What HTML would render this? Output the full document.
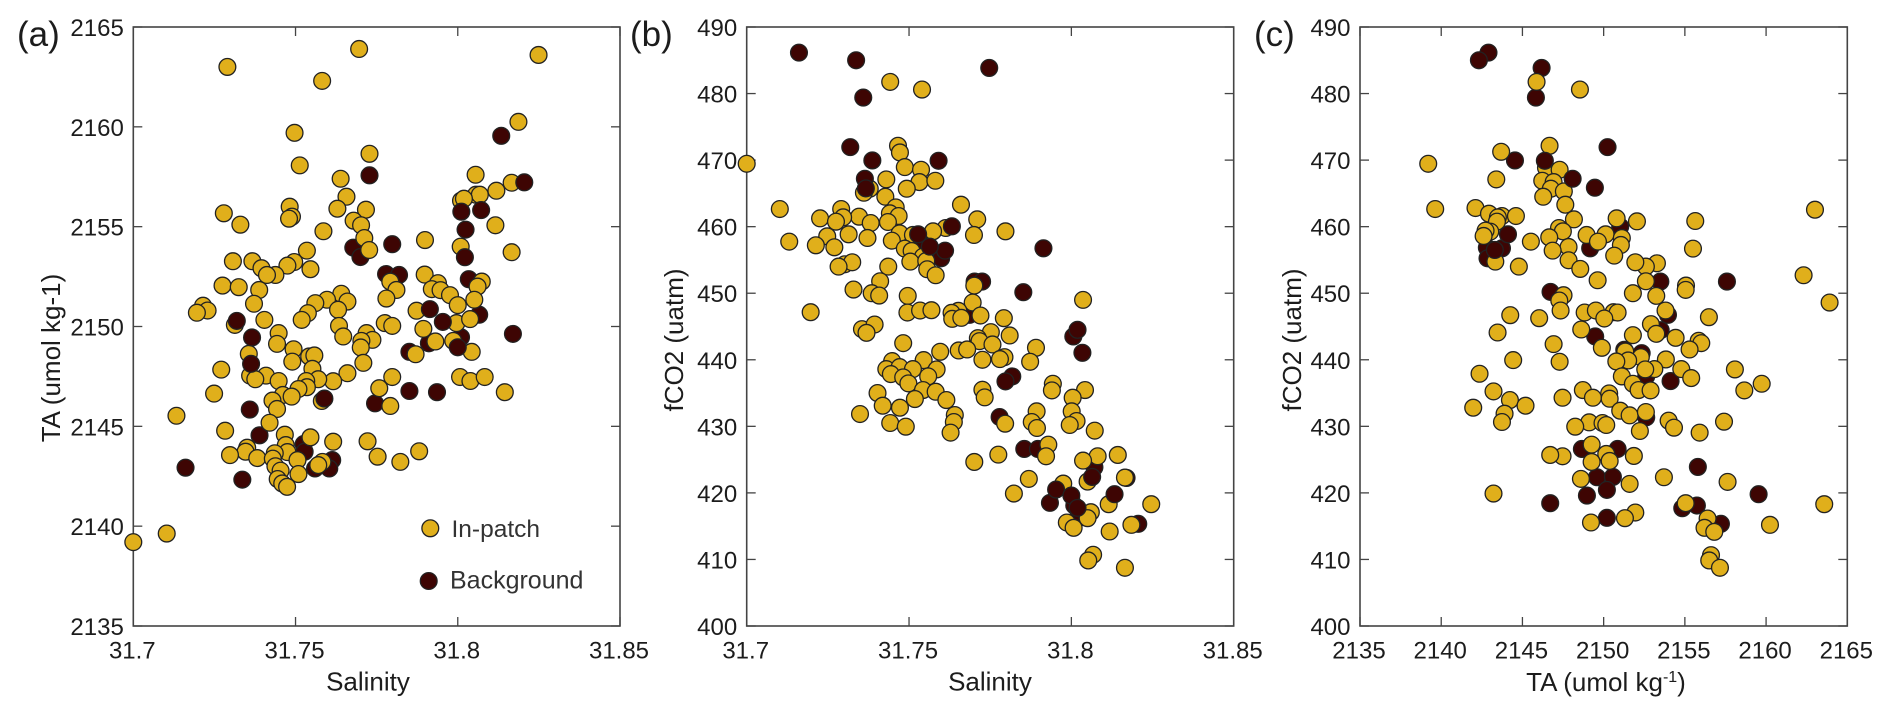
<!DOCTYPE html>
<html lang="en">
<head>
<meta charset="utf-8">
<title>Salinity, TA and fCO2 scatter plots</title>
<style>
html,body{margin:0;padding:0;background:#fff;width:1892px;height:716px;overflow:hidden}
svg{display:block}
text{font-family:"Liberation Sans",Arial,sans-serif;fill:#1c1c1c}
</style>
</head>
<body>
<svg id="figure" xmlns="http://www.w3.org/2000/svg" width="1892" height="716" viewBox="0 0 1892 716">
  <rect width="1892" height="716" fill="#fff"/>
  <g id="panel-a"></g>
  <g id="panel-b"></g>
  <g id="panel-c"></g>
  <text x="17" y="46" font-size="35">(a)</text>
  <text x="630" y="46" font-size="35">(b)</text>
  <text x="1254" y="46" font-size="35">(c)</text>
  <text x="368" y="690.5" font-size="26" text-anchor="middle">Salinity</text>
  <text x="990" y="690.5" font-size="26" text-anchor="middle">Salinity</text>
  <text x="1606" y="691" font-size="26" text-anchor="middle">TA (umol kg<tspan dy="-9" font-size="16">-1</tspan><tspan dy="9">)</tspan></text>
  <text transform="translate(60 358) rotate(-90)" font-size="26" text-anchor="middle">TA (umol kg-1)</text>
  <text transform="translate(683 340) rotate(-90)" font-size="26" text-anchor="middle">fCO2 (uatm)</text>
  <text transform="translate(1301 340) rotate(-90)" font-size="26" text-anchor="middle">fCO2 (uatm)</text>
  <g>
    <circle cx="430.3" cy="528.3" r="8.4" fill="#e0af1b" stroke="#222" stroke-width="1.3"/>
    <text x="451.5" y="537" font-size="24.5" fill="#333" style="fill:#333">In-patch</text>
    <circle cx="428.7" cy="581" r="8.4" fill="#3e0503" stroke="#222" stroke-width="1.3"/>
    <text x="450" y="588.5" font-size="25" fill="#333" style="fill:#333">Background</text>
  </g>
</svg>
<script>
const salinityTicks = [31.7, 31.75, 31.8, 31.85];
const salinityTickLabels = ["31.7", "31.75", "31.8", "31.85"];
const taTicks = [2135, 2140, 2145, 2150, 2155, 2160, 2165];
const taTickLabels = ["2135", "2140", "2145", "2150", "2155", "2160", "2165"];
const fco2Ticks = [400, 410, 420, 430, 440, 450, 460, 470, 480, 490];
const fco2TickLabels = ["400", "410", "420", "430", "440", "450", "460", "470", "480", "490"];

const panelAInPatchSalinity = [
31.729,31.7696,31.7582,31.8249,31.8187,31.7497,31.7728,31.7513,31.7639,31.8055,
31.8166,31.8119,31.8056,31.8068,31.801,31.8019,31.7657,31.7482,31.7489,31.748,
31.7629,31.7717,31.7279,31.733,31.7679,31.7702,31.8116,31.7586,31.7712,31.7899,
31.7727,31.8009,31.8166,31.7535,31.7307,31.7367,31.7395,31.7496,31.7475,31.7546,
31.7438,31.7412,31.7275,31.7325,31.7388,31.7898,31.7792,31.7811,31.8074,31.8061,
31.7939,31.792,31.7947,31.7976,31.7215,31.7229,31.7196,31.7372,31.778,31.7641,
31.766,31.7597,31.7561,31.7538,31.7519,31.7631,31.7404,31.8,31.8051,31.7873,
31.7775,31.7798,31.7996,31.8038,31.7634,31.7313,31.7448,31.7443,31.7647,31.7719,
31.7737,31.7703,31.7701,31.7894,31.7931,31.7986,31.787,31.8043,31.7356,31.7494,
31.7542,31.7558,31.749,31.7552,31.7709,31.7271,31.766,31.7616,31.757,31.7533,
31.7535,31.7509,31.7409,31.7448,31.736,31.7376,31.7798,31.7758,31.8007,31.8039,
31.8083,31.8145,31.7249,31.7461,31.7488,31.7581,31.7792,31.7429,31.7443,31.7133,
31.742,31.7283,31.7467,31.7546,31.7616,31.7722,31.7881,31.747,31.7351,31.7346,
31.7475,31.7436,31.7298,31.7382,31.743,31.7506,31.7753,31.7823,31.7583,31.757,
31.7438,31.7454,31.7509,31.7445,31.7459,31.7474,31.7103,31.7];
const panelAInPatchTA = [
2163,2163.9,2162.3,2163.6,2160.25,2159.7,2158.65,2158.07,2157.4,2157.6,
2157.2,2156.8,2156.6,2156.6,2156.3,2156.4,2156.5,2156,2155.5,2155.4,
2155.9,2155.85,2155.67,2155.1,2155.3,2155.07,2155.07,2154.77,2154.43,2154.33,
2153.83,2154,2153.72,2153.8,2153.27,2153.27,2152.92,2153.23,2153.05,2152.87,
2152.58,2152.58,2152.05,2151.97,2151.83,2152.6,2152.25,2151.83,2152.25,2152,
2152.17,2151.87,2151.82,2151.57,2151.04,2150.8,2150.69,2151.14,2151.4,2151.64,
2151.25,2151.34,2151.17,2150.67,2150.33,2150.84,2150.33,2151.07,2151.34,2150.79,
2150.17,2150.03,2150.17,2150.37,2150.03,2150.08,2149.67,2149.13,2149.5,2149.67,
2149.33,2149.28,2148.95,2149.88,2149.25,2149.28,2148.61,2148.73,2148.63,2148.86,
2148.5,2148.55,2148.24,2147.88,2148.18,2147.84,2147.66,2147.26,2147.36,2147.27,
2146.96,2146.87,2147.54,2147.27,2147.54,2147.36,2147.47,2146.91,2147.47,2147.27,
2147.47,2146.71,2146.64,2146.57,2146.49,2146.27,2146.02,2146.29,2145.87,2145.53,
2145.18,2144.78,2144.58,2144.45,2144.23,2144.25,2143.75,2144.06,2143.93,2143.73,
2143.71,2143.65,2143.56,2143.41,2143.38,2143.31,2143.48,2143.22,2143.22,2143.06,
2143,2142.78,2142.61,2142.36,2142.14,2141.97,2139.63,2139.2];
const panelABackgroundLowerSalinity = [
31.8134,31.7728,31.7678,31.77,31.7798,31.7779,31.7819,31.8034,31.7629,31.8066,
31.817,31.801,31.7911,31.7851,31.7851,31.7936,31.7745,31.7359,31.7389,31.7525,
31.7528,31.7613,31.756,31.7604,31.7161,31.7336];
const panelABackgroundLowerTA = [
2159.55,2157.57,2153.95,2153.48,2154.12,2152.63,2152.58,2152.37,2151.09,2150.59,
2149.63,2149.46,2149.16,2148.73,2146.77,2146.71,2146.15,2145.84,2144.55,2144.11,
2143.73,2143.31,2142.89,2142.89,2142.93,2142.33];
const panelABackgroundUpperSalinity = [31.7319,31.7589,31.7363,31.8011,31.8072,31.8024,31.8022,31.8205,31.7914,31.7954,31.8,31.7366];
const panelABackgroundUpperTA = [2150.28,2146.39,2148.13,2155.75,2155.83,2154.85,2153.47,2157.22,2150.87,2150.23,2148.96,2149.45];

const panelBInPatchSalinity = [
31.7442,31.754,31.7466,31.7472,31.7487,31.7537,31.7532,31.7581,31.743,31.7493,
31.7379,31.7361,31.7427,31.7,31.766,31.7459,31.7291,31.7102,31.7441,31.7468,
31.771,31.7226,31.7346,31.7297,31.7275,31.7382,31.7435,31.7613,31.7574,31.7797,
31.7471,31.7314,31.77,31.7372,31.7248,31.7512,31.7131,31.7213,31.7447,31.727,
31.7487,31.7508,31.7543,31.7504,31.7553,31.7302,31.7325,31.7283,31.7436,31.7556,
31.7582,31.7411,31.7329,31.7701,31.7696,31.7385,31.7408,31.7496,31.7495,31.7534,
31.7569,31.7197,31.7652,31.7631,31.7633,31.7661,31.772,31.7792,31.7355,31.7394,
31.7369,31.7752,31.781,31.7712,31.7717,31.7757,31.7482,31.7596,31.7653,31.7679,
31.7891,31.7794,31.778,31.7726,31.7873,31.7448,31.7545,31.743,31.7471,31.7512,
31.7585,31.7444,31.7482,31.7559,31.7498,31.7543,31.7582,31.7403,31.7726,31.7733,
31.7615,31.7518,31.7419,31.7472,31.7349,31.7641,31.7638,31.7442,31.749,31.7628,
31.7796,31.7775,31.7701,31.7869,31.7823,31.7893,31.7878,31.7894,31.8036,31.7943,
31.794,31.8042,31.8004,31.8001,31.8016,31.7995,31.8072,31.7929,31.7922,31.8081,
31.8143,31.8036,31.8165,31.805,31.7975,31.8115,31.8246,31.806,31.805,31.7986,
31.8007,31.8185,31.8118,31.8067,31.8052,31.8165];
const panelBInPatchFco2 = [
481.75,480.6,472.15,471.15,468.95,468.55,466.7,466.9,467.1,465.7,
465.7,465.1,464.5,469.45,463.3,462.9,462.65,462.65,462,461.6,
461.1,461.25,461.5,461.4,460.75,460.55,460.7,459.8,459.3,459.3,
459,458.85,458.75,458.3,458.55,458.75,457.75,457.2,457.9,456.9,
456.7,456.35,455.5,454.75,454.85,454.35,454.65,454,454,453.6,
452.7,451.8,450.55,451.15,448.6,450,449.65,449.6,447.1,447.4,
447.45,447.15,447.35,447.05,446.15,446.3,446.65,446.25,444.6,445.3,
444.05,444.15,443.65,443.25,442.8,442.3,442.5,441.2,441.4,441.55,
441.8,440.4,440.1,440,439.7,439.8,439.95,438.6,438.9,438.6,
438.55,437.85,437.35,437.5,436.45,435.45,435.2,435,435.5,434.35,
433.95,434.1,433.1,432.8,431.85,431.7,430.65,430.5,429.95,429.05,
430.4,425.75,424.65,422.1,419.9,432.25,430.65,429.75,449,436.4,
435.4,435.45,434.3,432.25,430.8,430.2,429.35,427.25,425.5,425.5,
425.7,424.85,422.3,421.7,421.4,418.3,418.3,417.1,416.2,415.55,
414.75,415.2,414.2,410.7,409.85,408.75];
const panelBBackgroundLowerSalinity = [
31.7161,31.7337,31.7747,31.7359,31.7319,31.7387,31.7591,31.7533,31.7599,31.7914,
31.7702,31.7725,31.7852,31.7686,31.7818,31.7797,31.7779,31.7855,31.7897,31.8006,
31.8034,31.8071,31.817,31.7934,31.8009,31.8014,31.8206];
const panelBBackgroundLowerFco2 = [
486.15,485,483.85,479.4,471.95,469.95,469.9,458,455.25,456.75,
451.75,451.75,450.15,446.75,437.5,436.75,431.4,426.6,426.6,443.5,
441.05,423.85,422.25,418.5,418.1,415.9,415.35];
const panelBBackgroundUpperSalinity = [31.7364,31.7367,31.7528,31.7611,31.7632,31.7564,31.8064,31.7953,31.8,31.8133,31.8019,31.8019];
const panelBBackgroundUpperFco2 = [467.2,465.75,458.85,456.4,460.05,457,422.4,420.5,419.6,419.8,417.75,444.5];

const panelCInPatchTA = [
2145.87,2148.54,2146.67,2143.69,2139.2,2146.45,2147.29,2143.39,2146.22,2146.92,
2146.75,2147.55,2146.28,2147.64,2139.63,2142.11,2163.01,2142.94,2143.74,2144.6,
2143.49,2148.17,2150.8,2155.64,2152.05,2143.43,2147.25,2147.49,2143.02,2142.73,
2142.61,2146.65,2148.95,2150.12,2151.12,2145.52,2149.65,2151.06,2147.84,2155.5,
2146.86,2150.65,2147.84,2153.28,2152.6,2151.95,2144.78,2143.33,2148.56,2162.31,
2149.63,2152.6,2155.07,2155.05,2151.8,2153.24,2163.91,2147.53,2147.27,2147.35,
2153.81,2144.25,2146.03,2148.83,2149.52,2150.61,2150.86,2150.04,2156.48,2152.91,
2143.47,2148.62,2151.8,2153.24,2154.43,2155.85,2156.01,2155.29,2146.92,2149.89,
2151.33,2152.29,2151.51,2150.78,2153.83,2144.43,2147.29,2153.12,2152.56,2154.78,
2158.08,2142.36,2151.12,2155.39,2159.73,2151.8,2152.15,2152.89,2158.66,2148.72,
2143.22,2150.34,2149.34,2150.37,2147.47,2144.23,2145.19,2141.97,2151.02,2151.6,
2152.6,2143.9,2154,2143.74,2149.11,2149.93,2150.16,2148.25,2157.41,2154.33,
2152.23,2155.91,2149.26,2150.16,2147.47,2146.71,2151.86,2150.37,2149.26,2148.6,
2153.71,2151.6,2157.63,2143.22,2155.05,2163.58,2151.95,2151.31,2149.22,2156.4,
2160.24,2156.21,2156.81,2156.61,2156.5,2157.16];
const panelCInPatchFco2 = [
481.75,480.6,472.15,471.25,469.45,468.85,468.55,467.1,466.9,466.7,
465.7,465.3,464.5,463.3,462.65,462.8,462.55,461.95,461.6,461.6,
461.4,461.1,461.25,460.85,460.8,460.75,459.8,459.3,459.25,459.4,
458.6,458.4,458.75,458.85,458.3,457.75,457.75,457.25,456.95,456.7,
456.4,455.65,454.95,454.5,454,454.65,454,454.75,453.65,452.7,
451.95,451.8,451.15,450.5,450,449.6,448.6,449.7,448.9,447.4,
447.4,446.7,446.25,447.1,447.4,447.15,447.1,446.2,446.4,445.35,
444.1,444.55,443.7,443.9,443.3,442.85,442.5,441.55,442.35,441.8,
441.25,440.4,439.9,439.75,440.05,439.95,439.7,438.6,438.55,438.6,
438.55,437.9,437.5,437.25,436.4,436.4,435.45,435.4,435.4,435.45,
435.25,434.95,434.3,434.15,434.3,433.95,433.1,432.8,432.35,431.65,
432.15,431.9,430.85,430.65,430.6,430.5,430.2,429.95,430.7,429.8,
429.3,429.05,427.25,425.85,425.5,425.7,425.55,424.8,424.65,422.1,
422.35,421.35,421.65,419.9,418.45,418.3,417.05,416.2,415.55,416.15,
415.2,414.75,414.15,410.65,409.85,408.75];
const panelCBackgroundLowerTA = [
2146.18,2145.83,2150.24,2144.54,2149.46,2151.02,2143.74,2142.81,2142.85,2149.17,
2153.49,2157.59,2146.73,2153.96,2153.51,2149.48,2151.27,2152.34,2154.12,2152.62,
2152.62,2148.66,2150.86,2155.8,2149.59,2150.57,2150.2,2159.54,2148.97,2146.71,
2155.74,2154.84,2150.2,2157.22];
const panelCBackgroundLowerFco2 = [
483.85,479.4,471.95,469.95,465.85,460,456.75,456.85,455.25,456.75,
451.75,451.75,450.2,446.75,444.45,443.5,441.5,441,436.8,437.5,
431.35,426.6,426.6,423.9,422.35,422.4,420.45,419.8,419.6,418.45,
418.1,417.7,416.25,415.35];
const panelCBackgroundUpperTA = [2142.91,2142.32,2146.38,2148.09,2144.11,2143.3];
const panelCBackgroundUpperFco2 = [486.15,485,469.9,467.2,458.85,456.5];

const SVG_NS = "http://www.w3.org/2000/svg";
const IN_PATCH_COLOR = "#e0af1b";
const BACKGROUND_COLOR = "#3e0503";

function linearScale(d0, d1, r0, r1) {
  return function (v) { return r0 + (v - d0) * (r1 - r0) / (d1 - d0); };
}
function make(parent, tag, attrs) {
  const el = document.createElementNS(SVG_NS, tag);
  for (const k in attrs) el.setAttribute(k, attrs[k]);
  parent.appendChild(el);
  return el;
}
function drawAxes(group, box, xs, ys, xTicks, xLabels, yTicks, yLabels) {
  const frame = make(group, "rect", {x: box.left, y: box.top, width: box.right - box.left, height: box.bottom - box.top, fill: "none", stroke: "#444", "stroke-width": 1.6});
  
  
  xTicks.forEach(function (t, i) {
    const x = xs(t);
    const bottomTick = make(group, "line", {x1: x, x2: x, y1: box.bottom, y2: box.bottom - 9, stroke: "#444", "stroke-width": 1.3});
    
    
    const topTick = make(group, "line", {x1: x, x2: x, y1: box.top, y2: box.top + 9, stroke: "#444", "stroke-width": 1.3});
    
    
    const label = make(group, "text", {x: x - 1, y: 658.5, "font-size": 24, "text-anchor": "middle"});
    
    
    label.textContent = xLabels[i];
  });
  yTicks.forEach(function (t, i) {
    const y = ys(t);
    const leftTick = make(group, "line", {x1: box.left, x2: box.left + 9, y1: y, y2: y, stroke: "#444", "stroke-width": 1.3});
    
    
    const rightTick = make(group, "line", {x1: box.right, x2: box.right - 9, y1: y, y2: y, stroke: "#444", "stroke-width": 1.3});
    
    
    const label = make(group, "text", {x: box.left - 9.5, y: y + 9, "font-size": 24, "text-anchor": "end"});
    
    
    label.textContent = yLabels[i];
  });
}
function drawPoints(group, xs, ys, xValues, yValues, color, seriesName) {
  xValues.forEach(function (v, i) {
    const c = make(group, "circle", {cx: xs(v), cy: ys(yValues[i]), r: 8.4, fill: color, stroke: "#222", "stroke-width": 1.3});
    
    
  });
}

const boxA = {left: 133.3, right: 620, top: 27, bottom: 626};
const boxB = {left: 746.7, right: 1233.7, top: 27, bottom: 626};
const boxC = {left: 1360, right: 1847.3, top: 27, bottom: 626};

const groupA = document.getElementById("panel-a");
const xA = linearScale(31.7, 31.85, boxA.left, boxA.right);
const yA = linearScale(2135, 2165, boxA.bottom, boxA.top);
drawAxes(groupA, boxA, xA, yA, salinityTicks, salinityTickLabels, taTicks, taTickLabels);
drawPoints(groupA, xA, yA, panelABackgroundLowerSalinity, panelABackgroundLowerTA, BACKGROUND_COLOR, "background-point");
drawPoints(groupA, xA, yA, panelAInPatchSalinity, panelAInPatchTA, IN_PATCH_COLOR, "in-patch-point");
drawPoints(groupA, xA, yA, panelABackgroundUpperSalinity, panelABackgroundUpperTA, BACKGROUND_COLOR, "background-point");

const groupB = document.getElementById("panel-b");
const xB = linearScale(31.7, 31.85, boxB.left, boxB.right);
const yB = linearScale(400, 490, boxB.bottom, boxB.top);
drawAxes(groupB, boxB, xB, yB, salinityTicks, salinityTickLabels, fco2Ticks, fco2TickLabels);
drawPoints(groupB, xB, yB, panelBBackgroundLowerSalinity, panelBBackgroundLowerFco2, BACKGROUND_COLOR, "background-point");
drawPoints(groupB, xB, yB, panelBInPatchSalinity, panelBInPatchFco2, IN_PATCH_COLOR, "in-patch-point");
drawPoints(groupB, xB, yB, panelBBackgroundUpperSalinity, panelBBackgroundUpperFco2, BACKGROUND_COLOR, "background-point");

const groupC = document.getElementById("panel-c");
const xC = linearScale(2135, 2165, boxC.left, boxC.right);
const yC = linearScale(400, 490, boxC.bottom, boxC.top);
drawAxes(groupC, boxC, xC, yC, taTicks, taTickLabels, fco2Ticks, fco2TickLabels);
drawPoints(groupC, xC, yC, panelCBackgroundLowerTA, panelCBackgroundLowerFco2, BACKGROUND_COLOR, "background-point");
drawPoints(groupC, xC, yC, panelCInPatchTA, panelCInPatchFco2, IN_PATCH_COLOR, "in-patch-point");
drawPoints(groupC, xC, yC, panelCBackgroundUpperTA, panelCBackgroundUpperFco2, BACKGROUND_COLOR, "background-point");
</script>
</body>
</html>
